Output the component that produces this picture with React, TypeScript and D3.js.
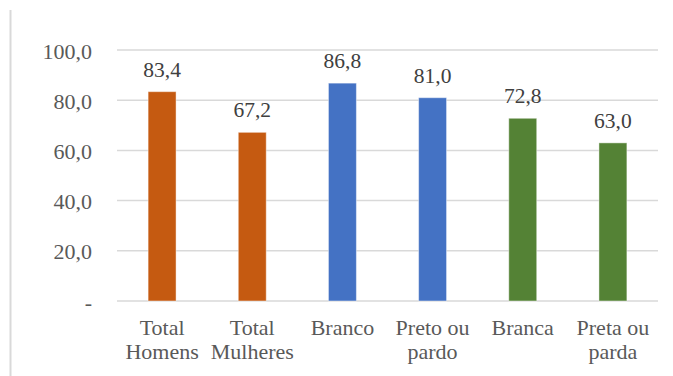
import React from "react";
import * as d3 from "d3";

// Category names (split into lines), values and bar colours
const categories: string[][] = [
  ["Total", "Homens"],
  ["Total", "Mulheres"],
  ["Branco"],
  ["Preto ou", "pardo"],
  ["Branca"],
  ["Preta ou", "parda"],
];
const values: number[] = [83.4, 67.2, 86.8, 81.0, 72.8, 63.0];
const barColors: string[] = ["#C55A11", "#C55A11", "#4472C4", "#4472C4", "#548235", "#548235"];
const yTicks: number[] = [0, 20, 40, 60, 80, 100];

const W = 673;
const H = 376;
const margin = { left: 117, right: 15, top: 50, bottom: 75 };
const FONT = '"Liberation Serif", "Times New Roman", Times, serif';
const axisStyle: React.CSSProperties = { fontFamily: FONT, fontSize: "22px" };
const valueStyle: React.CSSProperties = { fontFamily: FONT, fontSize: "21.5px" };

const fmt = (v: number) => (v === 0 ? "-" : d3.format(".1f")(v).replace(".", ","));

export default function App() {
  const x = d3
    .scaleBand<number>()
    .domain(values.map((_, i) => i))
    .range([margin.left, W - margin.right])
    .paddingInner(0.69)
    .paddingOuter(0.345);
  const y = d3.scaleLinear().domain([0, 100]).range([H - margin.bottom, margin.top]);
  const cx = (i: number) => (x(i) ?? 0) + x.bandwidth() / 2;

  return (
    <svg
      width={W}
      height={H}
      style={{ position: "absolute", left: 0, top: 0, background: "#fff" }}
    >
      {/* left frame edge */}
      <line x1={10.5} x2={10.5} y1={10} y2={H} stroke="#d9d9d9" strokeWidth={2} />

      {/* gridlines and y tick labels */}
      {yTicks.map((t) => (
        <g key={t}>
          <line
            x1={margin.left}
            x2={W - margin.right}
            y1={y(t)}
            y2={y(t)}
            stroke="#d9d9d9"
            strokeWidth={1.5}
          />
          <text
            x={92}
            y={y(t) + 1}
            textAnchor="end"
            dominantBaseline="central"
            style={axisStyle}
            fill="#595959"
          >
            {fmt(t)}
          </text>
        </g>
      ))}

      {/* bars */}
      {values.map((v, i) => (
        <rect
          key={i}
          x={x(i)}
          y={y(v)}
          width={x.bandwidth()}
          height={y(0) - y(v)}
          fill={barColors[i]}
          stroke="#ffffff"
          strokeOpacity={0.45}
          strokeWidth={1}
        />
      ))}

      {/* value labels */}
      {values.map((v, i) => (
        <text
          key={i}
          x={cx(i)}
          y={y(v) - 15}
          textAnchor="middle"
          style={valueStyle}
          fill="#404040"
        >
          {fmt(v)}
        </text>
      ))}

      {/* category labels */}
      {categories.map((lines, i) => (
        <text key={i} x={cx(i)} y={334.7} textAnchor="middle" style={axisStyle} fill="#595959">
          {lines.map((l, j) => (
            <tspan key={j} x={cx(i)} dy={j === 0 ? 0 : 24.6}>
              {l}
            </tspan>
          ))}
        </text>
      ))}
    </svg>
  );
}
